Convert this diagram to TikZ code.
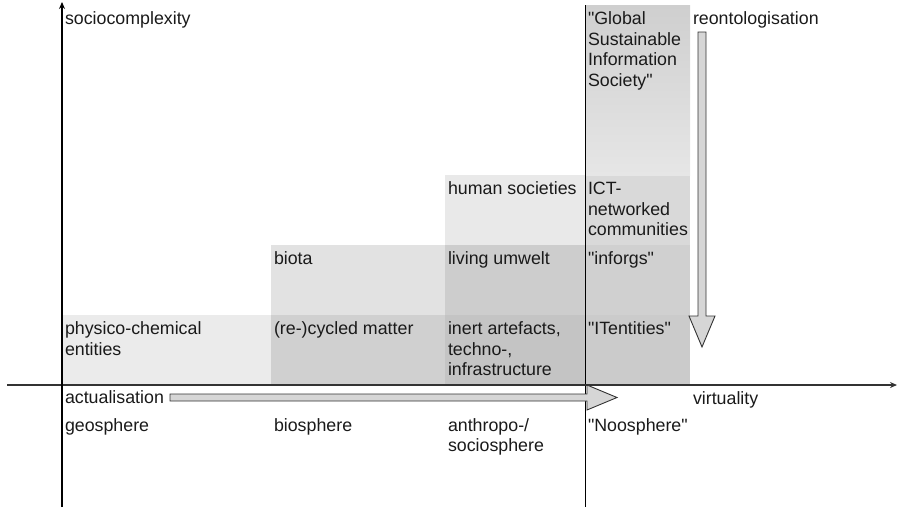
\documentclass[tikz,border=0pt]{standalone}
\usepackage{fontspec}
\setmainfont{Liberation Sans}[Ligatures=TeXOff]
\usetikzlibrary{arrows.meta,calc}
\definecolor{cA}{HTML}{EBEBEB}
\definecolor{cB}{HTML}{D0D0D0}
\definecolor{cC}{HTML}{C4C4C4}
\definecolor{cD}{HTML}{CBCBCB}
\definecolor{cE}{HTML}{E2E2E2}
\definecolor{cF}{HTML}{CDCDCD}
\definecolor{cG}{HTML}{D0D0D0}
\definecolor{cH}{HTML}{E9E9E9}
\definecolor{cI}{HTML}{D9D9D9}
\definecolor{cTop}{HTML}{CFCFCF}
\definecolor{cBot}{HTML}{E6E6E6}
\definecolor{arrowfill}{HTML}{D6D6D6}
\definecolor{txt}{HTML}{1A1A1A}
\newcommand\linesL[1]{\vtop{\halign{##\hfil\cr#1\crcr}}}
\begin{document}
\begin{tikzpicture}[x=1pt,y=-1pt,
  cell/.style={draw=none,inner sep=0pt,outer sep=0pt,anchor=north west},
  lbl/.style={inner sep=0pt,outer sep=0pt,anchor=base west,text=txt,
    font=\fontsize{17.8}{20.6}\selectfont},
  fatarrow/.style={draw=black!80,fill=arrowfill,line width=0.9pt,line join=miter},
  yaxis/.style={line width=1.8pt,draw=black,-{Stealth[length=7pt,width=6pt]}},
  xaxis/.style={line width=1.1pt,draw=black!80,-{Stealth[length=7pt,width=6pt]}},
  divider/.style={line width=0.9pt,draw=black}]
\useasboundingbox (0,0) rectangle (897,507);
% cells
\node[cell,fill=cA,minimum width=209pt,minimum height=70pt] (c1) at (62,315) {};
\node[cell,fill=cB,minimum width=174pt,minimum height=70pt] (c2) at (271,315) {};
\node[cell,fill=cC,minimum width=140pt,minimum height=70pt] (c3) at (445,315) {};
\node[cell,fill=cD,minimum width=105pt,minimum height=70pt] (c4) at (585,315) {};
\node[cell,fill=cE,minimum width=174pt,minimum height=70pt] (c5) at (271,245) {};
\node[cell,fill=cF,minimum width=140pt,minimum height=70pt] (c6) at (445,245) {};
\node[cell,fill=cG,minimum width=105pt,minimum height=70pt] (c7) at (585,245) {};
\node[cell,fill=cH,minimum width=140pt,minimum height=70pt] (c8) at (445,175) {};
\node[cell,fill=cI,minimum width=105pt,minimum height=70pt] (c9) at (585,175) {};
\node[cell,top color=cTop,bottom color=cBot,minimum width=105pt,minimum height=170pt] (c10) at (585,5) {};
% labels in cells
\node[lbl] (t1) at ($(c1.north west)+(3,19.5)$) {\linesL{physico-chemical\cr entities}};
\node[lbl] (t2) at ($(c2.north west)+(3,19.5)$) {(re-)cycled matter};
\node[lbl] (t3) at ($(c3.north west)+(3,19.5)$) {\linesL{inert artefacts,\cr techno-,\cr infrastructure}};
\node[lbl] (t4) at ($(c4.north west)+(3,19.5)$) {"ITentities"};
\node[lbl] (t5) at ($(c5.north west)+(3,19.5)$) {biota};
\node[lbl] (t6) at ($(c6.north west)+(3,19.5)$) {living umwelt};
\node[lbl] (t7) at ($(c7.north west)+(3,19.5)$) {"inforgs"};
\node[lbl] (t8) at ($(c8.north west)+(3,19.5)$) {human societies};
\node[lbl] (t9) at ($(c9.north west)+(3,19.5)$) {\linesL{ICT-\cr networked\cr communities}};
\node[lbl] (t10) at ($(c10.north west)+(3,19.5)$) {\linesL{"Global\cr Sustainable\cr Information\cr Society"}};
% divider line
\coordinate (dtop) at (585,5);
\coordinate (dbot) at (585,507);
\draw[divider] (dtop) -- (dbot);
% axes
\coordinate (xs) at (7,385);
\coordinate (xe) at (897,385);
\coordinate (ys) at (62,507);
\coordinate (ye) at (62,2);
\draw[xaxis] (xs) -- (xe);
\draw[yaxis] (ys) -- (ye);
% fat arrows
\draw[fatarrow] (170,394) -- (587,394) -- (587,385) -- (617,397.5) -- (587,410) -- (587,401) -- (170,401) -- cycle;
\draw[fatarrow] (698,32) -- (706,32) -- (706,316) -- (715,316) -- (702,347) -- (689,316) -- (698,316) -- cycle;
% axis labels
\node[lbl] (soc) at (65,24) {sociocomplexity};
\node[lbl] (reo) at (693,24) {reontologisation};
\node[lbl] (act) at (65,403) {actualisation};
\node[lbl] (vir) at (693,404) {virtuality};
% spheres
\node[lbl] (geo) at (65,431) {geosphere};
\node[lbl] (bio) at (274,431) {biosphere};
\node[lbl] (ant) at (448,431) {\linesL{anthropo-/\cr sociosphere}};
\node[lbl] (noo) at (588,431) {"Noosphere"};
\end{tikzpicture}
\end{document}
